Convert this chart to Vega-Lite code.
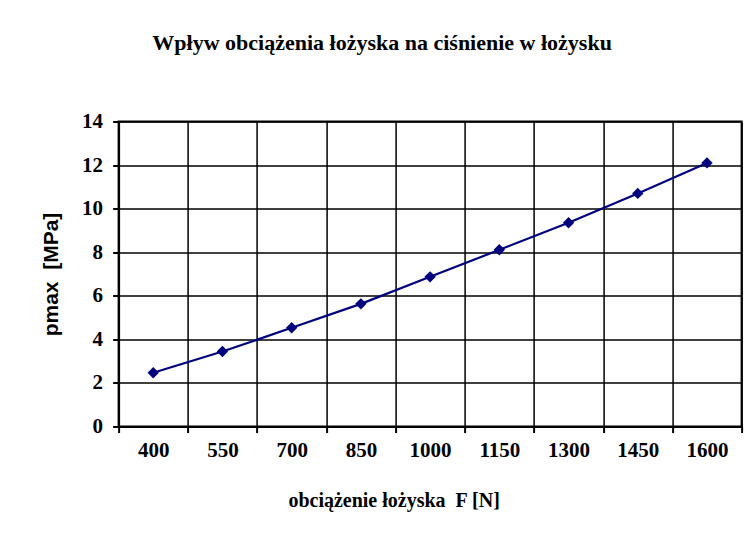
{
  "$schema": "https://vega.github.io/schema/vega-lite/v6.json",
  "width": 623,
  "height": 305,
  "autosize": {"type": "none"},
  "padding": {"left": 118.6, "top": 121.5, "right": 4.4, "bottom": 111.5},
  "background": "white",
  "title": {
    "text": "Wpływ obciążenia łożyska na ciśnienie w łożysku",
    "font": "Liberation Serif",
    "fontSize": 22,
    "fontWeight": "bold",
    "color": "black",
    "anchor": "middle",
    "dx": -48,
    "offset": 56
  },
  "data": {
    "values": [
      {"F": 400, "p": 2.47},
      {"F": 550, "p": 3.44},
      {"F": 700, "p": 4.53},
      {"F": 850, "p": 5.63},
      {"F": 1000, "p": 6.87},
      {"F": 1150, "p": 8.11},
      {"F": 1300, "p": 9.35},
      {"F": 1450, "p": 10.7},
      {"F": 1600, "p": 12.1}
    ]
  },
  "encoding": {
    "x": {
      "field": "F",
      "type": "ordinal",
      "scale": {"paddingInner": 0, "paddingOuter": 0},
      "axis": {
        "title": "obciążenie łożyska\u00a0\u00a0F [N]",
        "tickBand": "extent",
        "labelAngle": 0,
        "labelFont": "Liberation Serif",
        "labelFontSize": 21,
        "labelFontWeight": "bold",
        "labelPadding": 7,
        "titleFont": "Liberation Serif",
        "titleFontSize": 20,
        "titleFontWeight": "bold",
        "titlePadding": 30,
        "titleX": 275,
        "grid": true
      }
    },
    "y": {
      "field": "p",
      "type": "quantitative",
      "scale": {"domain": [0, 14], "nice": false},
      "axis": {
        "title": "pmax\u00a0\u00a0[MPa]",
        "values": [0, 2, 4, 6, 8, 10, 12, 14],
        "labelFont": "Liberation Serif",
        "labelFontSize": 21,
        "labelFontWeight": "bold",
        "labelPadding": 10,
        "titleFont": "Liberation Sans",
        "titleFontSize": 21,
        "titleFontWeight": "bold",
        "titlePadding": 20,
        "grid": true
      }
    }
  },
  "layer": [
    {"mark": {"type": "line", "color": "#000080", "strokeWidth": 2.2}},
    {"mark": {"type": "point", "shape": "diamond", "filled": true, "color": "#000080", "size": 130, "opacity": 1}}
  ],
  "config": {
    "view": {"stroke": "black", "strokeWidth": 2},
    "axis": {
      "gridColor": "black",
      "gridOpacity": 1,
      "gridWidth": 1.5,
      "domainColor": "black",
      "domainWidth": 2,
      "tickColor": "black",
      "tickWidth": 2,
      "tickSize": 6,
      "labelColor": "black",
      "titleColor": "black"
    }
  }
}
